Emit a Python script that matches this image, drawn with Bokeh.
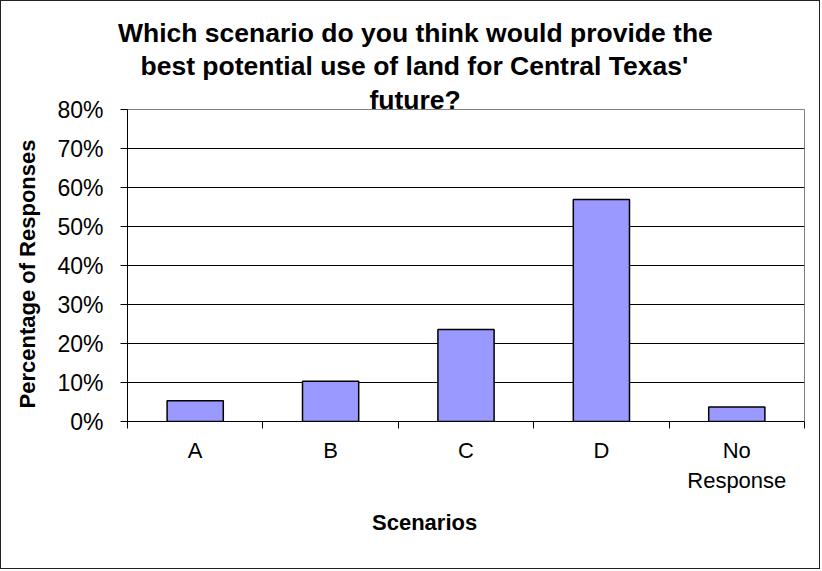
from bokeh.plotting import figure
from bokeh.models import (Title, FixedTicker, NumeralTickFormatter, Range1d, ColumnDataSource)
from bokeh.embed import file_html
from bokeh.resources import INLINE

# ---- data ----
categories = ["A", "B", "C", "D", "No\nResponse"]
shares = [0.053, 0.103, 0.236, 0.569, 0.037]
y_ticks = [0.0, 0.1, 0.2, 0.3, 0.4, 0.5, 0.6, 0.7, 0.8]
title_lines = ["Which scenario do you think would provide the",
               "best potential use of land for Central Texas'",
               "future?"]
x_title = "Scenarios"
y_title = "Percentage of Responses"

positions = [i + 0.5 for i in range(len(categories))]
src = ColumnDataSource(dict(x=positions, top=shares))

FONT = "Liberation Sans"
TITLE_FONT = dict(text_font=FONT, text_font_style="bold",
                  text_font_size="26.5px", text_color="black", align="left")

p = figure(width=820, height=569, output_backend="svg", toolbar_location=None,
           x_range=Range1d(0, len(categories)), y_range=Range1d(0, 0.8),
           min_border_left=124, min_border_right=17, min_border_top=108,
           min_border_bottom=149,
           title=Title(text=title_lines[0], offset=-9.5, standoff=-9, **TITLE_FONT))
# panels listed first sit closest to the plot frame
p.add_layout(Title(text=title_lines[2], offset=242, standoff=-10.5, **TITLE_FONT), "above")
p.add_layout(Title(text=title_lines[1], offset=13, standoff=12.3, **TITLE_FONT), "above")

p.styles = {"border": "1px solid #222"}
p.background_fill_color = "white"
p.border_fill_color = "white"
p.outline_line_color = "#808080"
p.outline_line_width = 1

p.vbar(x="x", top="top", width=0.415, source=src, fill_color="#9999FF",
       line_color="black", line_width=1.5)

# y axis
p.yaxis.ticker = FixedTicker(ticks=y_ticks)
p.yaxis.formatter = NumeralTickFormatter(format="0%")
p.yaxis.major_label_text_font = FONT
p.yaxis.major_label_text_font_size = "23px"
p.yaxis.major_label_text_color = "black"
p.yaxis.major_tick_out = 7
p.yaxis.major_tick_in = 0
p.yaxis.major_label_standoff = 17
p.yaxis.minor_tick_line_color = None
p.yaxis.axis_line_color = "black"
p.yaxis.major_tick_line_color = "black"

p.ygrid.ticker = FixedTicker(ticks=y_ticks[1:-1])
p.ygrid.grid_line_color = "black"
p.ygrid.grid_line_width = 1
p.xgrid.grid_line_color = None

# x axis: labels at centres, ticks at category boundaries
p.xaxis.ticker = FixedTicker(ticks=positions,
                             minor_ticks=list(range(len(categories) + 1)))
p.xaxis.major_label_overrides = {pos: c for pos, c in zip(positions, categories)}
p.xaxis.major_tick_line_color = None
p.xaxis.major_tick_out = 0
p.xaxis.major_tick_in = 0
p.xaxis.minor_tick_line_color = "black"
p.xaxis.minor_tick_out = 7
p.xaxis.minor_tick_in = 0
p.xaxis.major_label_standoff = 9
p.xaxis.major_label_text_font = FONT
p.xaxis.major_label_text_font_size = "22px"
p.xaxis.major_label_text_line_height = 1.2
p.xaxis.major_label_text_color = "black"
p.xaxis.axis_line_color = "black"

# axis titles (as side titles so they can be shifted like the original)
p.add_layout(Title(text=x_title, text_font=FONT, text_font_style="bold",
                   text_font_size="22px", text_color="black", align="left",
                   vertical_align="top", offset=244.5, standoff=28), "below")
p.add_layout(Title(text=y_title, text_font=FONT, text_font_style="bold",
                   text_font_size="22px", text_color="black", align="left",
                   vertical_align="top", offset=13, standoff=26), "left")

open("out.html", "w").write(file_html(p, INLINE))
